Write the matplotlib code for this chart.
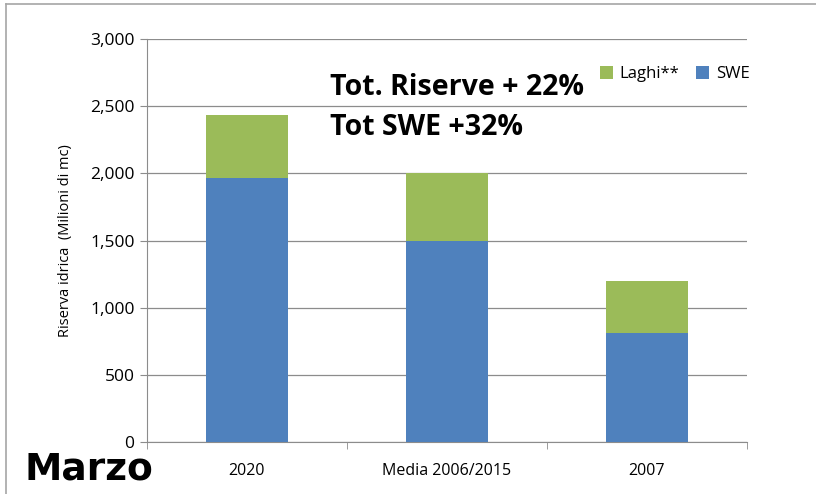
import matplotlib
matplotlib.use("Agg")
import matplotlib.pyplot as plt
from matplotlib.ticker import FuncFormatter, MultipleLocator
from matplotlib.lines import Line2D

categories = ["2020", "Media 2006/2015", "2007"]
swe = [1965, 1495, 810]
laghi = [470, 505, 390]

plt.rcParams['font.family'] = ['Open Sans', 'DejaVu Sans']

fig = plt.figure(figsize=(8.16, 4.94), dpi=100)
ax = fig.add_axes([0.1801, 0.1053, 0.735, 0.8157])

x = range(len(categories))
ax.bar(x, swe, width=0.41, color="#4F81BD", label="SWE", zorder=3)
ax.bar(x, laghi, width=0.41, bottom=swe, color="#9BBB59", label="Laghi**", zorder=3)

ax.set_xlim(-0.5, 2.5)
ax.set_ylim(0, 3000)
ax.yaxis.set_major_locator(MultipleLocator(500))
ax.yaxis.set_major_formatter(FuncFormatter(lambda v, p: f"{int(v):,}"))
ax.grid(axis="y", color="#8c8c8c", linewidth=0.9, zorder=0)

ax.set_xticks(list(x))
ax.set_xticklabels(categories, fontsize=11.5)
ax.set_xticks([-0.5, 0.5, 1.5, 2.5], minor=True)
ax.tick_params(axis="x", which="major", length=0, pad=15)
ax.tick_params(axis="x", which="minor", length=5, color="#8c8c8c")
ax.tick_params(axis="y", length=5, color="#8c8c8c", labelsize=12.5, pad=4)

for s in ["top", "right"]:
    ax.spines[s].set_visible(False)
for s in ["left", "bottom"]:
    ax.spines[s].set_color("#8c8c8c")

ax.set_ylabel("Riserva idrica  (Milioni di mc)", fontsize=10.5, labelpad=12)

handles, labels = ax.get_legend_handles_labels()
ax.legend(handles[::-1], labels[::-1], loc="upper right", bbox_to_anchor=(1.03, 0.97),
          ncol=2, frameon=False, fontsize=12, handlelength=0.8, handleheight=0.8,
          columnspacing=1.0, handletextpad=0.4)

fig.text(0.405, 0.822, "Tot. Riserve + 22%", fontsize=20.5, fontweight="bold", va="center")
fig.text(0.405, 0.741, "Tot SWE +32%", fontsize=20.5, fontweight="bold", va="center")
fig.text(0.03, 0.05, "Marzo", fontsize=27, fontweight="bold", va="center",
         family=["DejaVu Sans"])

# light frame on the left and top edges
fig.lines.append(Line2D([0.007, 0.007], [0.0, 0.992], transform=fig.transFigure,
                        color="#a6a6a6", linewidth=1.2))
fig.lines.append(Line2D([0.007, 1.0], [0.992, 0.992], transform=fig.transFigure,
                        color="#a6a6a6", linewidth=1.2))

fig.savefig("out.png", dpi=100)
